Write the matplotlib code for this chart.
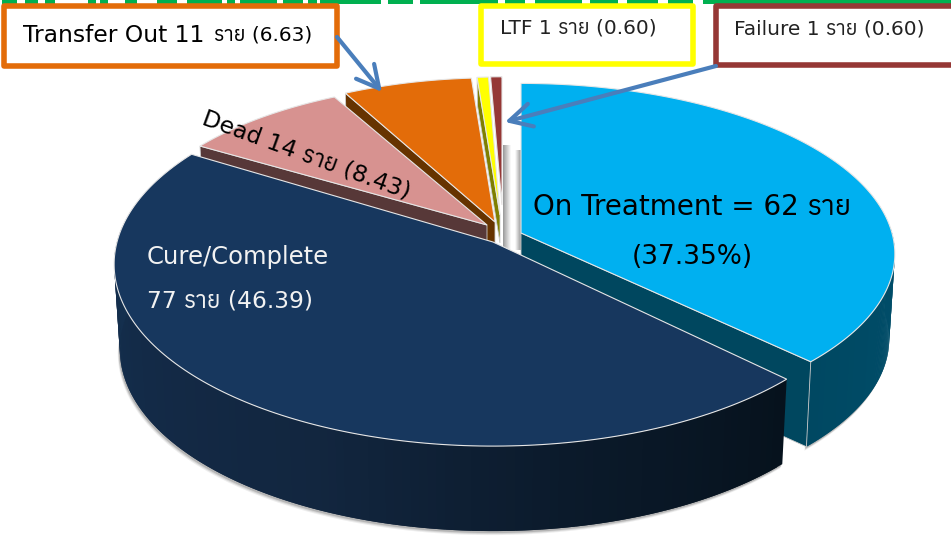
import numpy as np
import matplotlib
matplotlib.use('Agg')
from matplotlib import pyplot as plt
from matplotlib.patches import Rectangle, Polygon
from matplotlib.colors import to_rgb

categories = ['On Treatment', 'Cure/Complete', 'Dead', 'Transfer Out', 'LTF', 'Failure']
counts = [62, 77, 14, 11, 1, 1]
percents = ['37.35', '46.39', '8.43', '6.63', '0.60', '0.60']
unit = 'ราย'
top_colors = ['#00b0f0', '#17375e', '#d79290', '#e36c09', '#ffff00', '#953735']
wall_colors = ['#00475f', '#12263f', '#573838', '#663300', '#7f7f00', '#5a1f1e']

# cx, cy, rx, ry of each slice in pixels
geometry = [(521, 233, 371, 168), (493, 242, 376, 179), (487, 225, 358, 161),
            (495, 222, 351, 162), (500, 215, 340, 155), (502, 205, 340, 144)]
K = 0.123      # perspective
DEPTH = 85
SHRINK = 0.985

plt.rcParams['font.family'] = ['DejaVu Sans', 'Anuphan']

fig = plt.figure(figsize=(9.51, 5.41), dpi=100)
ax = fig.add_axes([0, 0, 1, 1])
ax.set_xlim(0, 951)
ax.set_ylim(541, 0)
ax.axis('off')

edges = np.cumsum([0] + counts) / sum(counts) * 360


def top_pts(theta, g):
    cx, cy, rx, ry = g
    t = np.radians(theta)
    w = 1 + K * np.cos(t)
    return cx + rx * np.sin(t) / w, cy - ry * np.cos(t) / w


def low_pts(x, y, g):
    return g[0] + (x - g[0]) * SHRINK, y + DEPTH


def rim(i, start, end, colors, z):
    g = geometry[i]
    th = np.linspace(start, end, 120)
    x, y = top_pts(th, g)
    lx, ly = low_pts(x, y, g)
    # soft shadow under the rim
    for off, a in [(4, 0.10), (3, 0.15), (2, 0.25)]:
        ax.fill(np.r_[lx - off * 0.5, x[::-1]], np.r_[ly + off, y[::-1]], color='#555555', alpha=a, lw=0, zorder=z - 0.5)
    rgb = np.array([to_rgb(c) for c in colors])
    pos = np.linspace(0, 1, len(colors))
    for j in range(len(th) - 1):
        f = j / (len(th) - 2)
        c = [np.interp(f, pos, rgb[:, n]) for n in range(3)]
        # each quad runs into the next one so no seams show
        k = min(j + 2, len(th) - 1)
        ax.fill([x[j], x[k], lx[k], lx[j]], [y[j], y[k], ly[k], ly[j]], color=c, lw=0, zorder=z)


def cut_face(i, theta, z, depth=DEPTH):
    g = geometry[i]
    x, y = top_pts(theta, g)
    lx, _ = low_pts(x, y, g)
    ax.add_patch(Polygon([(g[0], g[1]), (x, y), (lx, y + depth), (g[0], g[1] + depth)],
                         facecolor=wall_colors[i], edgecolor='#cccccc', lw=0.6, zorder=z))


def top_face(i, z):
    g = geometry[i]
    th = np.linspace(edges[i], edges[i + 1], 160)
    x, y = top_pts(th, g)
    ax.add_patch(Polygon(np.c_[np.r_[g[0], x], np.r_[g[1], y]], facecolor=top_colors[i],
                         edgecolor='#e6e6e6', lw=0.8, zorder=z))


# gap between the blue slice and the rest
for j in range(8):
    v = 0.62 + j * 0.05
    ax.add_patch(Rectangle((503 + j, 145), 1, 105, color=(v, v, v), lw=0, zorder=1))
for j in range(6):
    v = 0.62 + j * 0.07
    ax.add_patch(Rectangle((520 - j, 150), 1, 100, color=(v, v, v), lw=0, zorder=1))

# blue slice
rim(0, 88, edges[1], ['#004f6c', '#004862'], 2)
cut_face(0, edges[1], 4)
top_face(0, 5)

# small slices, far ones first
top_face(5, 6)
cut_face(4, edges[4], 7, depth=28)
top_face(4, 8)
cut_face(3, edges[3], 9)
top_face(3, 10)
cut_face(2, edges[2], 11)
top_face(2, 12)

# cure slice
rim(1, edges[1], 275, ['#06121d', '#0b1a2b', '#12263f', '#132a47', '#14304f'], 13)
top_face(1, 14)

# bottoms of the title letters above the chart
green_runs = [(2, 17), (25, 38), (45, 55), (88, 96), (100, 108), (125, 137), (157, 177), (187, 222),
              (227, 235), (240, 277), (283, 303), (308, 317), (320, 381), (388, 413), (420, 498),
              (505, 525), (535, 582), (590, 618), (627, 658), (668, 693), (703, 951)]
for a, b in green_runs:
    ax.add_patch(Rectangle((a, 0), b - a, 3.5, color='#00b050', lw=0, zorder=20))


def label_box(x0, y0, x1, y1, color):
    ax.add_patch(Rectangle((x0, y0), x1 - x0, y1 - y0, facecolor='white', edgecolor=color, lw=4,
                           joinstyle='round', zorder=21))


label_box(4, 6, 337, 66, '#e36c09')
label_box(481, 6, 693, 64, '#ffff00')
label_box(716, 6, 960, 65, '#953735')
ax.text(23, 35, f'{categories[3]} {counts[3]}', fontsize=16.8, va='center', color='black', zorder=22)
ax.text(214, 35, f'{unit} ({percents[3]})', fontsize=14.5, va='center', color='black', zorder=22)
ax.text(500, 28, f'{categories[4]} {counts[4]} {unit} ({percents[4]})', fontsize=14.5, va='center', color='#222222', zorder=22)
ax.text(734, 29, f'{categories[5]} {counts[5]} {unit} ({percents[5]})', fontsize=14.5, va='center', color='#222222', zorder=22)
ax.text(533, 207, f'{categories[0]} = {counts[0]} {unit}', fontsize=20, va='center', color='black', zorder=22)
ax.text(692, 257, f'({percents[0]}%)', fontsize=19, va='center', ha='center', color='black', zorder=22)
ax.text(147, 257, categories[1], fontsize=17.5, va='center', color='#f2f2f2', zorder=22)
ax.text(147, 301, f'{counts[1]} {unit} ({percents[1]})', fontsize=16.8, va='center', color='#f2f2f2', zorder=22)
ax.text(306, 155, f'{categories[2]} {counts[2]} {unit} ({percents[2]})', fontsize=16.8, va='center', ha='center',
        rotation=-20, rotation_mode='anchor', color='black', zorder=22)

arrow = dict(arrowstyle='->,head_length=0.8,head_width=0.42', color='#4a7ebb', lw=3, shrinkA=0, shrinkB=0, mutation_scale=20)
ax.annotate('', xy=(382, 92), xytext=(337, 37), arrowprops=arrow, zorder=23)
ax.annotate('', xy=(505, 122), xytext=(716, 66), arrowprops=arrow, zorder=23)

fig.savefig('out.png', dpi=100)
